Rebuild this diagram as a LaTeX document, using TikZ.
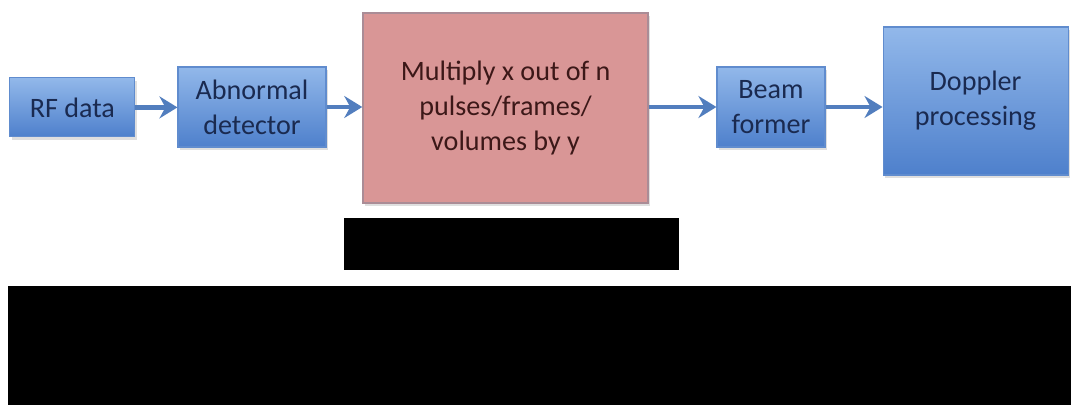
\documentclass[tikz,border=0pt]{standalone}
\usepackage{fontspec}
\setmainfont{Carlito}
\usetikzlibrary{arrows.meta,shadows}

\definecolor{boxtop}{RGB}{146,184,234}
\definecolor{boxbot}{RGB}{78,128,204}
\definecolor{boxline}{RGB}{96,140,206}
\definecolor{boxtext}{RGB}{26,42,80}
\definecolor{pinkfill}{RGB}{217,150,150}
\definecolor{pinkline}{RGB}{170,140,150}
\definecolor{pinktext}{RGB}{60,24,24}
\definecolor{arrowblue}{RGB}{82,126,190}

\begin{document}
\begin{tikzpicture}[
    font=\fontsize{20}{25}\selectfont,
    blubox/.style={rectangle, draw=boxline, line width=0.8pt, top color=boxtop, bottom color=boxbot,
                   align=center, text=boxtext, inner sep=0pt,
                   drop shadow={opacity=0.25, shadow xshift=0.5mm, shadow yshift=-0.8mm}},
    pinkbox/.style={rectangle, draw=pinkline, line width=1.2pt, fill=pinkfill,
                    align=center, text=pinktext, inner sep=0pt,
                    drop shadow={opacity=0.25, shadow xshift=0.5mm, shadow yshift=-0.8mm}},
    blackbox/.style={rectangle, fill=black, inner sep=0pt},
    arr/.style={-{Stealth[length=4.5mm, width=5.5mm, inset=1.5mm]}, line width=3.2pt, arrowblue}
]
\useasboundingbox (0,0) rectangle (26.775,10.125);

% ---- Blocks ----
\node[blubox, minimum width=3.125cm, minimum height=1.475cm] (rf) at (1.81,7.44) {RF data};
\node[blubox, minimum width=3.7cm, minimum height=2cm] (abn) at (6.3,7.45) {Abnormal\\detector};
\node[pinkbox, minimum width=7.125cm, minimum height=4.75cm] (mult) at (12.64,7.425)
    {Multiply x out of n\\pulses/frames/\\volumes by y};
\node[blubox, minimum width=2.7cm, minimum height=2cm] (beam) at (19.275,7.45) {Beam\\former};
\node[blubox, minimum width=4.625cm, minimum height=3.7cm] (dop) at (24.39,7.6) {Doppler\\processing};

% ---- Arrows ----
\draw[arr] (rf.east) -- (abn.west |- rf.east);
\draw[arr] (abn.east) -- (mult.west |- abn.east);
\draw[arr] (mult.east |- beam.west) -- (beam.west);
\draw[arr] (beam.east) -- (dop.west |- beam.east);

% ---- Black bars ----
\node[blackbox, minimum width=8.375cm, minimum height=1.3cm] (bar1) at (12.79,4.025) {};
\node[blackbox, minimum width=26.575cm, minimum height=2.975cm] (bar2) at (13.4875,1.4875) {};

\end{tikzpicture}
\end{document}
